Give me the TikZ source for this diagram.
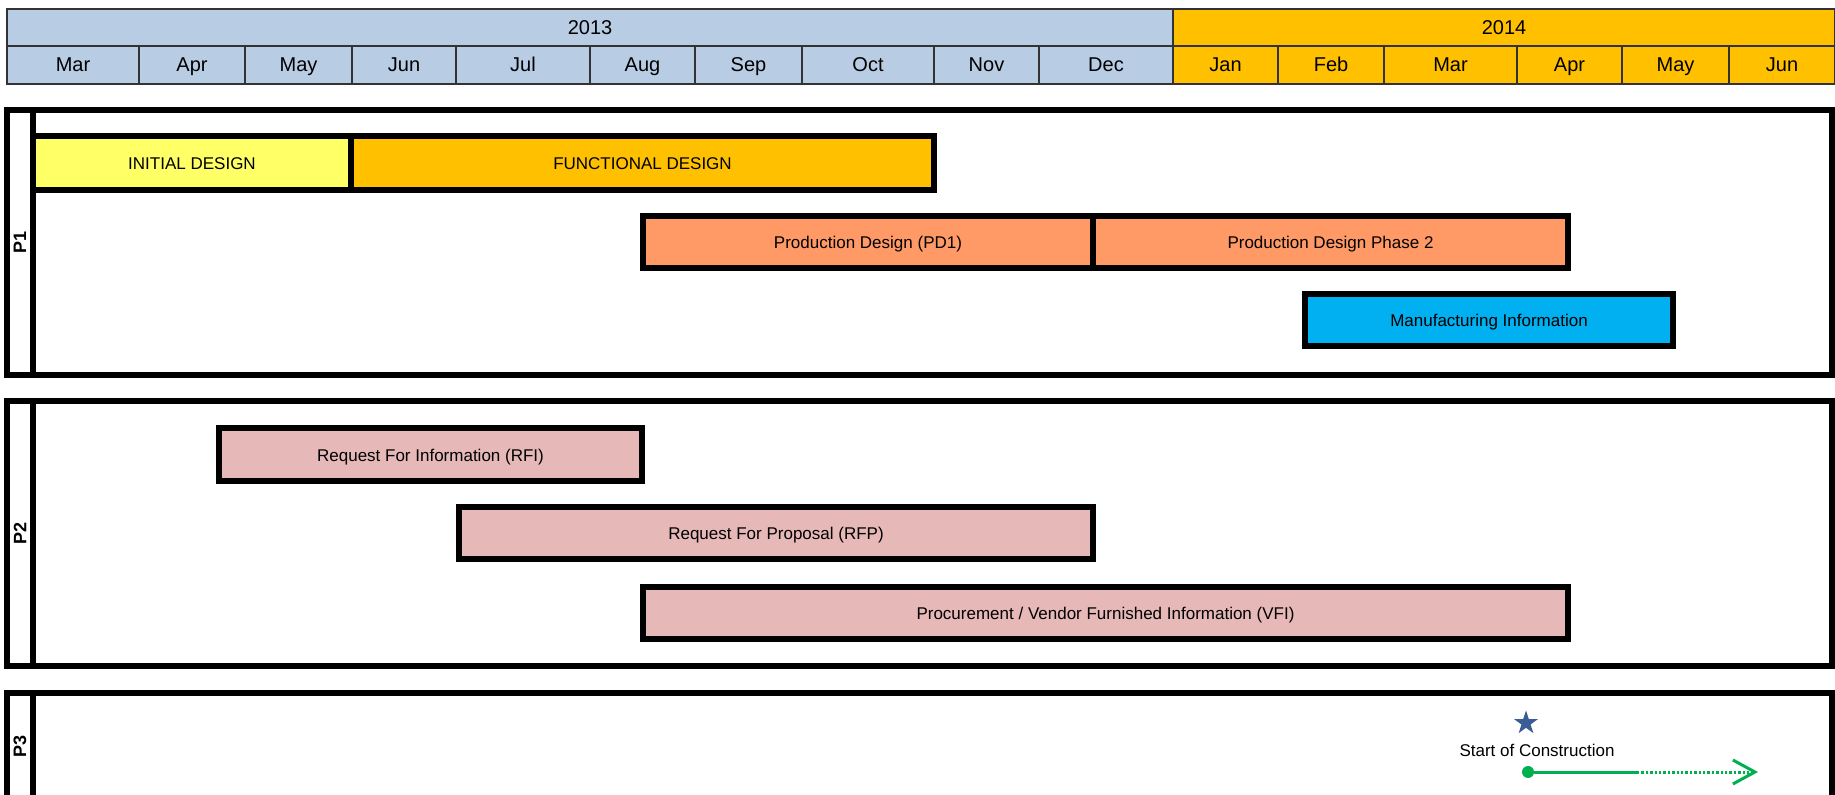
\documentclass[tikz,border=0pt]{standalone}
\usepackage{fontspec}
\setmainfont{Liberation Sans}
\usetikzlibrary{positioning, fit, calc, shapes.geometric}
\usetikzlibrary{arrows, arrows.meta}
\definecolor{jahrblau}{HTML}{B8CCE4}
\definecolor{jahrorange}{HTML}{FFC000}
\definecolor{hellgelb}{HTML}{FFFF66}
\definecolor{lachs}{HTML}{FF9966}
\definecolor{cyanblau}{HTML}{00B0F0}
\definecolor{rosa}{HTML}{E6B8B7}
\definecolor{gruen}{HTML}{00B050}
\definecolor{sternblau}{HTML}{3B5C94}
\tikzset{myarrow/.style={-{Straight Barb[length=11pt, width=12pt]}}}
\tikzset{monthcell/.style={inner sep=0pt, draw=black!80, line width=0.6pt}}
\tikzset{monthtext/.style={font=\fontsize{10}{0}\selectfont, text height=1.5ex, text depth=.25ex}}
\tikzset{mybar/.style={inner sep=0pt, draw, line width=2.8pt}}
\tikzset{bartext/.style={font=\fontsize{8.5}{0}\selectfont, text height=1.5ex, text depth=.25ex}}
\tikzset{mypanel/.style={inner sep=0pt, draw, line width=3pt}}
\tikzset{panellabel/.style={rotate=90, font=\bfseries\fontsize{9}{0}\selectfont}}

\begin{document}
\begin{tikzpicture}[x=0.5pt, y=-0.5pt]
		\useasboundingbox (0,0) rectangle (1835,795);
		\clip (0,0) rectangle (1835,795);
		
		% KOPFZEILE
		\node[fit={(7,9) (1173,46)}, monthcell, fill=jahrblau, label={[monthtext]center:2013}] (j2013) {};
		\node[fit={(1173,9) (1835,46)}, monthcell, fill=jahrorange, label={[monthtext]center:2014}] (j2014) {};
		\foreach \a/\b/\m [count=\i] in {7/139/Mar, 139/245/Apr, 245/352/May, 352/456/Jun, 456/590/Jul, 590/695/Aug, 695/802/Sep, 802/934/Oct, 934/1039/Nov, 1039/1173/Dec} {
			\node[fit={(\a,46) (\b,84)}, monthcell, fill=jahrblau, label={[monthtext]center:\m}] (a\i) {};
		}
		\foreach \a/\b/\m [count=\i] in {1173/1278/Jan, 1278/1384/Feb, 1384/1517/Mar, 1517/1622/Apr, 1622/1729/May, 1729/1835/Jun} {
			\node[fit={(\a,46) (\b,84)}, monthcell, fill=jahrorange, label={[monthtext]center:\m}] (b\i) {};
		}
		
		% P1
		\node[fit={(7,110) (1832,375)}, mypanel] (p1) {};
		\node[fit={(7,110) (33,375)}, mypanel] (p1col) {};
		\node[panellabel] (p1text) at (p1col) {P1};
		
		\node[fit={(33,136) (351,190)}, mybar, fill=hellgelb, label={[bartext]center:INITIAL DESIGN}] (initial) {};
		\node[fit={(351,136) (934,190)}, mybar, fill=jahrorange, label={[bartext]center:FUNCTIONAL DESIGN}] (functional) {};
		\node[fit={(643,216) (1093,268)}, mybar, fill=lachs, label={[bartext]center:Production Design (PD1)}] (pd1) {};
		\node[fit={(1093,216) (1568,268)}, mybar, fill=lachs, label={[bartext]center:Production Design Phase 2}] (pd2) {};
		\node[fit={(1305,294) (1673,346)}, mybar, fill=cyanblau, label={[bartext]center:Manufacturing Information}] (manu) {};
		
		% P2
		\node[fit={(7,401) (1832,666)}, mypanel] (p2) {};
		\node[fit={(7,401) (33,666)}, mypanel] (p2col) {};
		\node[panellabel] (p2text) at (p2col) {P2};
		
		\node[fit={(219,428) (642,481)}, mybar, fill=rosa, label={[bartext]center:Request For Information (RFI)}] (rfi) {};
		\node[fit={(459,507) (1093,559)}, mybar, fill=rosa, label={[bartext]center:Request For Proposal (RFP)}] (rfp) {};
		\node[fit={(643,587) (1568,639)}, mybar, fill=rosa, label={[bartext]center:Procurement / Vendor Furnished Information (VFI)}] (vfi) {};
		
		% P3
		\node[fit={(7,693) (1832,800)}, mypanel] (p3) {};
		\node[fit={(7,693) (33,800)}, mypanel] (p3col) {};
		\node[panellabel] (p3text) at (p3col) {P3};
		
		\node[star, star points=5, star point ratio=2.6, fill=sternblau, inner sep=0pt, minimum size=12.5pt] (stern) at (1526,723) {};
		\node[bartext] (startbau) at (1537,750) {Start of Construction};
		
		\node[circle, fill=gruen, inner sep=0pt, minimum size=6pt] (punkt) at (1528,772) {};
		\coordinate (wechsel) at (1637,772);
		\coordinate (ende) at (1758,772);
		\draw[gruen, line width=1.5pt] (punkt) -- (wechsel);
		\draw[gruen, line width=1.5pt, dash pattern=on 1.2pt off 1pt, myarrow] (wechsel) -- (ende);
		
	\end{tikzpicture}
\end{document}
